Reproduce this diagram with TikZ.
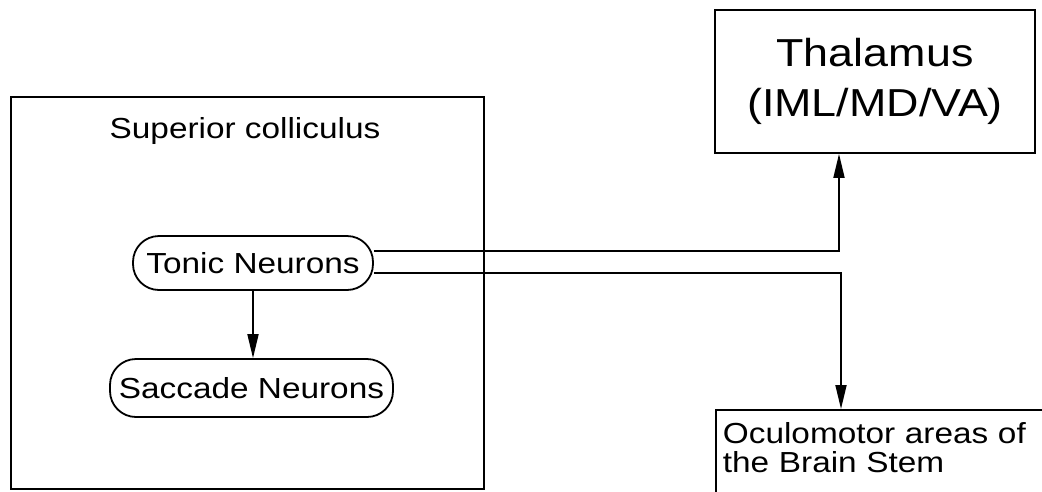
\documentclass[tikz,border=0pt]{standalone}
\usepackage{fontspec}
\newfontfamily\labelfont{Liberation Sans}[FakeStretch=1.15]
\usetikzlibrary{arrows.meta}
\begin{document}
\begin{tikzpicture}[x=1pt, y=-1pt, line width=1.8pt,
  box/.style={draw, rectangle, inner sep=0pt},
  neuron/.style={draw, rectangle, rounded corners=26pt, inner sep=0pt,
    font=\labelfont\fontsize{29}{30}\selectfont},
  conn/.style={-{Triangle[length=24pt,width=11pt]}, line width=1.8pt},
]
\clip (0,0) rectangle (1042,491);
\fill[white] (0,0) rectangle (1042,491);

% Superior colliculus with its two neuron populations
\node[box, minimum width=473pt, minimum height=392pt] (sc) at (247.5,293) {};
\node[anchor=base, font=\labelfont\fontsize{29}{30}\selectfont] (sctitle) at (245,138) {Superior colliculus};
\node[neuron, minimum width=240pt, minimum height=54pt] (tonic) at (253,263) {Tonic Neurons};
\node[neuron, minimum width=283pt, minimum height=58pt] (sacc) at (251.5,388) {Saccade Neurons};

% Targets
\node[box, minimum width=320pt, minimum height=143pt, align=center,
  font=\labelfont\fontsize{39}{50}\selectfont] (thal) at (875,81.5) {Thalamus\\(IML/MD/VA)};
\node[draw, rectangle, anchor=north west, text width=340pt, align=left,
  inner xsep=7pt, inner ysep=13pt, text depth=40pt,
  font=\labelfont\fontsize{29}{29}\selectfont] (ocu) at (715,409) {Oculomotor areas of\\the Brain Stem};

% Projections
\draw[conn] (tonic.south) -- (tonic.south |- sacc.north);
\draw[conn] ([yshift=12pt]tonic.east) -| ([xshift=-36pt]thal.south);
\draw[conn] ([yshift=-10pt]tonic.east) -| ([xshift=126pt]ocu.north west);
\end{tikzpicture}
\end{document}
